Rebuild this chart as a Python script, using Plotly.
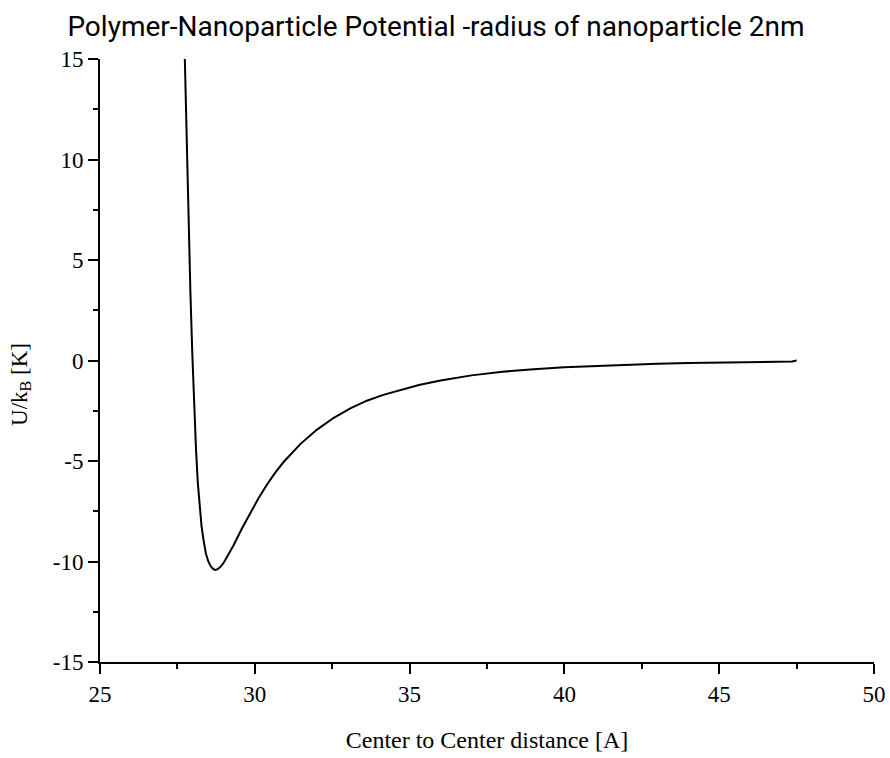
import plotly.graph_objects as go

# Center-to-center distance [A]
distance = [27.74, 27.80, 27.86, 27.92, 27.98, 28.04, 28.10, 28.16, 28.22, 28.28,
            28.34, 28.42, 28.50, 28.58, 28.66, 28.72, 28.80, 28.90, 29.00, 29.15,
            29.31, 29.58, 29.85, 30.12, 30.39, 30.66, 30.93, 31.20, 31.47, 32.00,
            32.55, 33.10, 33.62, 34.15, 34.70, 35.30, 36.00, 37.00, 38.00, 39.00,
            40.00, 41.00, 42.00, 43.00, 44.00, 45.00, 46.00, 47.20, 47.35, 47.50]
# Potential U/k_B [K]
potential = [15.0, 10.8, 7.0, 3.4, 0.4, -2.2, -4.4, -6.1, -7.35, -8.25,
             -8.9, -9.6, -10.0, -10.25, -10.38, -10.42, -10.38, -10.25, -10.05, -9.67,
             -9.20, -8.37, -7.58, -6.85, -6.18, -5.58, -5.05, -4.58, -4.16, -3.45,
             -2.85, -2.37, -2.00, -1.71, -1.46, -1.22, -0.99, -0.74, -0.56, -0.43,
             -0.34, -0.27, -0.21, -0.165, -0.13, -0.105, -0.085, -0.07, -0.05, 0.0]

x_ticks = [25, 30, 35, 40, 45, 50]
y_ticks = [-15, -10, -5, 0, 5, 10, 15]

serif = "Liberation Serif"

fig = go.Figure()
fig.add_trace(go.Scatter(
    x=distance, y=potential, mode="lines",
    line=dict(color="black", width=2),
    showlegend=False,
))

axis_common = dict(
    showline=True, linecolor="black", linewidth=2,
    ticks="outside", ticklen=10, tickwidth=2, tickcolor="black",
    showgrid=False, zeroline=False, mirror=False,
    tickfont=dict(family=serif, size=23, color="black"),
)

fig.update_xaxes(
    range=[25, 50], tickvals=x_ticks, ticktext=[str(v) for v in x_ticks],
    minor=dict(ticks="outside", ticklen=5, tickwidth=2, tickcolor="black", dtick=2.5),
    title=dict(text="Center to Center distance [A]",
               font=dict(family=serif, size=24, color="black"), standoff=26),
    **axis_common,
)
fig.update_yaxes(
    range=[-15, 15], tickvals=y_ticks, ticktext=[str(v) for v in y_ticks],
    minor=dict(ticks="outside", ticklen=5, tickwidth=2, tickcolor="black", dtick=2.5),
    **axis_common,
)

# y-axis title placed as a rotated annotation
fig.add_annotation(
    text="U/k<sub>B</sub> [K]", textangle=-90,
    xref="paper", yref="paper", x=-0.103, y=0.46,
    xanchor="center", yanchor="middle", showarrow=False,
    font=dict(family=serif, size=23, color="black"),
)

fig.update_layout(
    width=890, height=758,
    margin=dict(l=100, r=16, t=59, b=96, autoexpand=False),
    paper_bgcolor="white", plot_bgcolor="white",
    title=dict(text="Polymer-Nanoparticle Potential -radius of nanoparticle 2nm",
               x=436 / 890, xanchor="center", xref="container",
               y=1 - 26 / 758, yanchor="middle", yref="container",
               font=dict(family="Roboto", size=28, color="black")),
)

fig.write_html("out.html")
